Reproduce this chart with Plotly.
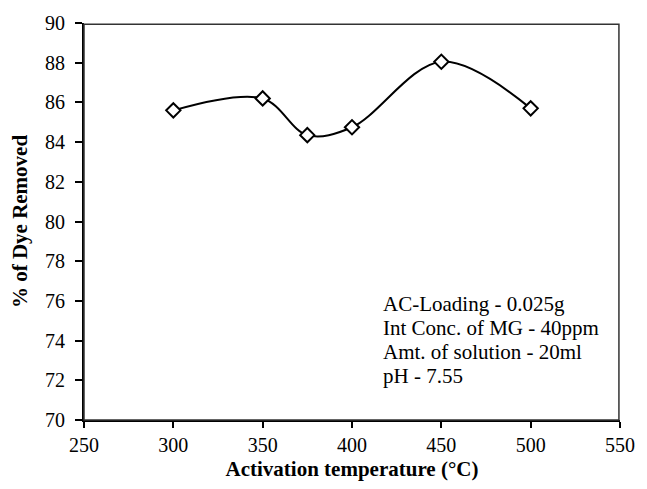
import plotly.graph_objects as go

temperature = [300, 350, 375, 400, 450, 500]
dye_removed = [85.6, 86.2, 84.35, 84.75, 88.05, 85.7]

x_ticks = [250, 300, 350, 400, 450, 500, 550]
y_ticks = [70, 72, 74, 76, 78, 80, 82, 84, 86, 88, 90]

note_lines = ["AC-Loading - 0.025g", "Int Conc. of MG - 40ppm",
              "Amt. of solution - 20ml", "pH - 7.55"]

FONT = "Liberation Serif, Times New Roman, serif"

fig = go.Figure()
fig.add_trace(go.Scatter(
    x=temperature, y=dye_removed, mode="lines+markers",
    line=dict(color="black", width=2, shape="spline", smoothing=1.0),
    marker=dict(symbol="diamond", size=11, color="white",
                line=dict(color="black", width=2)),
    showlegend=False,
    cliponaxis=False,
))

# note placement (paper coords), one line per entry
note_x = 0.554
note_y0 = 0.293
note_step = 0.061
annotations = [
    dict(xref="paper", yref="paper", x=note_x, y=note_y0 - i * note_step,
         xanchor="left", yanchor="middle", align="left", showarrow=False,
         text=line, font=dict(size=21, family=FONT, color="black"))
    for i, line in enumerate(note_lines)
]

fig.update_layout(
    width=647, height=489,
    margin=dict(l=84, r=18, t=17, b=62),
    paper_bgcolor="white", plot_bgcolor="white",
    font=dict(family=FONT, size=20, color="black"),
    xaxis=dict(range=[250, 550], tickvals=x_ticks, ticks="outside", ticklen=6,
               tickwidth=2, tickcolor="black", showgrid=False, zeroline=False,
               showline=True, linecolor="black", linewidth=2,
               tickfont=dict(size=20),
               title=dict(text="<b>Activation temperature (°C)</b>",
                          font=dict(size=21), standoff=6)),
    yaxis=dict(range=[70, 90], tickvals=y_ticks, ticks="outside", ticklen=7,
               tickwidth=2, tickcolor="black", showgrid=False, zeroline=False,
               showline=True, linecolor="black", linewidth=2,
               tickfont=dict(size=20), ticklabelstandoff=6,
               title=dict(text="<b>% of Dye Removed</b>",
                          font=dict(size=21), standoff=12)),
    shapes=[
        dict(type="rect", xref="paper", yref="paper", x0=0, x1=0.998,
             y0=0, y1=0.997, line=dict(color="#333333", width=1.5),
             fillcolor="rgba(0,0,0,0)", layer="above"),
    ],
    annotations=annotations,
)

fig.write_html("out.html", config={"displayModeBar": False})

# remove the default page margin so the figure sits at the window origin
with open("out.html", "r", encoding="utf-8") as f:
    html = f.read()
html = html.replace("<body>", '<body style="margin:0;padding:0">', 1)
with open("out.html", "w", encoding="utf-8") as f:
    f.write(html)
